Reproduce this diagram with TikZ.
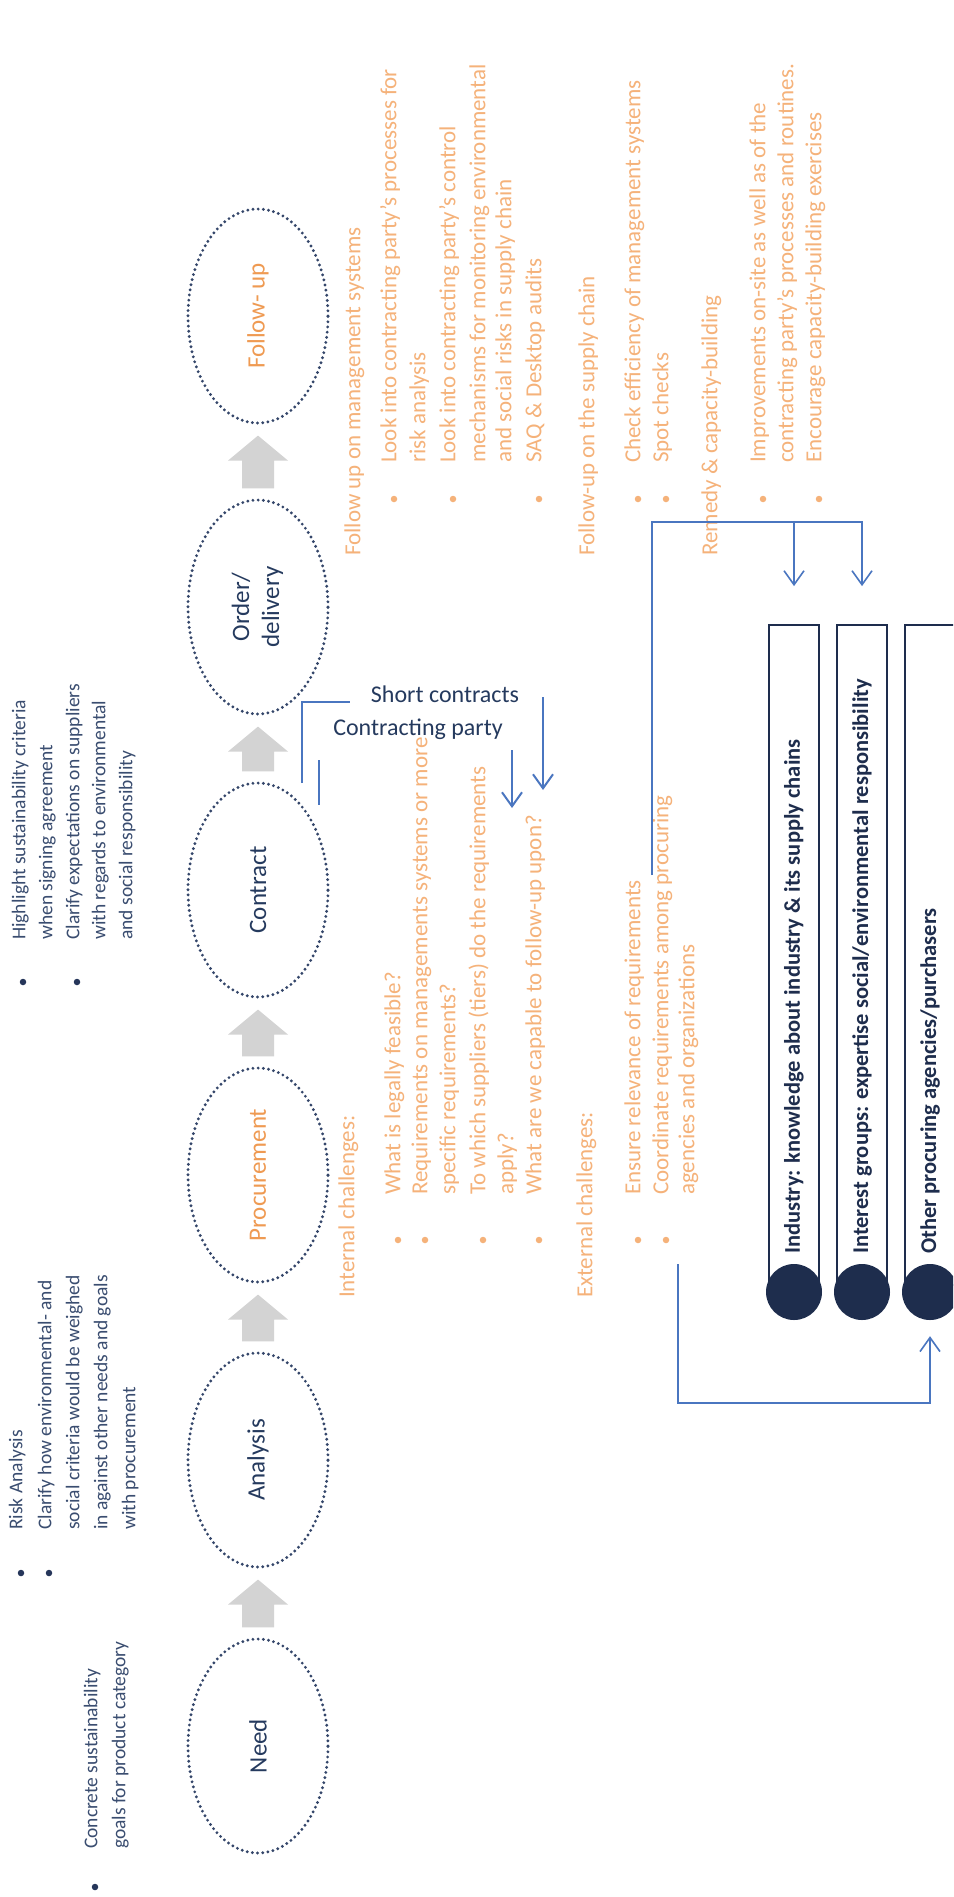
\documentclass[tikz,border=0pt]{standalone}
\usepackage{fontspec}
\setmainfont{Carlito}
\usepackage{graphicx}
\usetikzlibrary{arrows.meta,shapes.geometric,calc}

\definecolor{stageline}{HTML}{34466A}
\definecolor{navytext}{HTML}{253A5E}
\definecolor{bluetext}{HTML}{3A4D70}
\definecolor{bluedot}{HTML}{26365A}
\definecolor{orangetext}{HTML}{F5B27A}
\definecolor{orangelabel}{HTML}{EF9A52}
\definecolor{connblue}{HTML}{4A76C0}
\definecolor{flowgray}{HTML}{D3D3D3}
\definecolor{boxnavy}{HTML}{1E2D4D}

% broad grey arrow pointing from stage #1 up to stage #2
\newcommand\fatarrow[2]{%
  \fill[flowgray] ($(#1.north)+(-16,-10)$) -- ($(#2.south)+(-16,36)$)
    -- ($(#2.south)+(-30,36)$) -- ($(#2.south)+(0,11)$)
    -- ($(#2.south)+(30,36)$) -- ($(#2.south)+(16,36)$)
    -- ($(#1.north)+(16,-10)$) -- cycle;}

\begin{document}
\begin{tikzpicture}[x=1pt, y=-1pt,
  stage/.style={ellipse, draw=stageline, line width=3.2pt,
    dash pattern=on 0pt off 5.2pt, line cap=round,
    minimum width=140pt, minimum height=214pt, inner sep=0pt,
    font=\fontsize{25}{30}\selectfont, text=navytext},
  bline/.style={rotate=90, anchor=mid west, inner sep=0pt, text=bluetext,
    font=\fontsize{19.5}{24}\selectfont},
  oline/.style={rotate=90, anchor=mid west, inner sep=0pt, text=orangetext,
    font=\fontsize{23}{28}\selectfont},
  bdot/.style={circle, fill=bluedot, inner sep=0pt, minimum size=6.5pt},
  odot/.style={circle, fill=orangetext, inner sep=0pt, minimum size=6.5pt},
  conn/.style={draw=connblue, line width=1.6pt},
  arrowend/.style={-{Straight Barb[length=14pt,width=20pt]}},
  sidebox/.style={draw=boxnavy, line width=1.8pt, minimum width=50pt,
    minimum height=660pt, inner sep=0pt},
  boxtext/.style={rotate=90, anchor=west, inner sep=0pt, text=boxnavy,
    font=\fontsize{22.5}{26}\selectfont\bfseries},
  knob/.style={circle, fill=boxnavy, minimum size=56pt, inner sep=0pt},
  shortlbl/.style={inner sep=0pt, text=navytext, font=\fontsize{24}{28}\selectfont}
]
\clip (0,0) rectangle (953,1897);
\fill[white] (0,0) rectangle (953,1897);

% process stages
\node[stage] (need)   at (258,1746) {\rotatebox{90}{Need}};
\node[stage] (anal)   at (258,1460) {\rotatebox{90}{Analysis}};
\node[stage, text=orangelabel] (proc) at (258,1175) {\rotatebox{90}{Procurement}};
\node[stage] (contr)  at (258,890)  {\rotatebox{90}{Contract}};
\node[stage] (order)  at (258,607)  {\rotatebox{90}{\begin{tabular}{@{}c@{}}Order/\\delivery\end{tabular}}};
\node[stage, text=orangelabel] (follow) at (258,316) {\rotatebox{90}{Follow- up}};

\fatarrow{need}{anal}
\fatarrow{anal}{proc}
\fatarrow{proc}{contr}
\fatarrow{contr}{order}
\fatarrow{order}{follow}

% notes beside the stages
\node[bdot] (nb1) at (95,1887) {};
\node[bline] (nt1) at (95,1849) {Concrete sustainability};
\node[bline] (nt2) at (123,1849) {goals for product category};

\node[bdot] (ab1) at (21,1573) {};
\node[bdot] (ab2) at (49,1573) {};
\node[bline] (at1) at (20,1530) {Risk Analysis};
\node[bline] (at2) at (49,1530) {Clarify how environmental- and};
\node[bline] (at3) at (77,1530) {social criteria would be weighed};
\node[bline] (at4) at (105,1530) {in against other needs and goals};
\node[bline] (at5) at (133,1530) {with procurement};

\node[bdot] (cb1) at (23,982) {};
\node[bdot] (cb2) at (77,982) {};
\node[bline] (ct1) at (23,940) {Highlight sustainability criteria};
\node[bline] (ct2) at (50,940) {when signing agreement};
\node[bline] (ct3) at (77,940) {Clarify expectations on suppliers};
\node[bline] (ct4) at (103,940) {with regards to environmental};
\node[bline] (ct5) at (130,940) {and social responsibility};

% follow-up activities
\node[oline] (f1) at (358,556) {Follow up on management systems};
\node[odot] (fd1) at (394,499) {};
\node[oline] (f2) at (394,463) {Look into contracting party’s processes for};
\node[oline] (f3) at (423,463) {risk analysis};
\node[odot] (fd2) at (453,499) {};
\node[oline] (f4) at (453,463) {Look into contracting party’s control};
\node[oline] (f5) at (483,463) {mechanisms for monitoring environmental};
\node[oline] (f6) at (509,463) {and social risks in supply chain};
\node[odot] (fd3) at (539,499) {};
\node[oline] (f7) at (539,463) {SAQ \& Desktop audits};
\node[oline] (f8) at (592,556) {Follow-up on the supply chain};
\node[odot] (fd4) at (638,499) {};
\node[oline] (f9) at (638,463) {Check efficiency of management systems};
\node[odot] (fd5) at (666,499) {};
\node[oline] (f10) at (666,463) {Spot checks};
\node[oline] (f11) at (715,556) {Remedy \& capacity-building};
\node[odot] (fd6) at (763,499) {};
\node[oline] (f12) at (763,463) {Improvements on-site as well as of the};
\node[oline] (f13) at (791,463) {contracting party’s processes and routines.};
\node[odot] (fd7) at (819,499) {};
\node[oline] (f14) at (819,463) {Encourage capacity-building exercises};

% procurement challenges
\node[oline] (p1) at (352,1298) {Internal challenges:};
\node[odot] (pd1) at (398,1240) {};
\node[oline] (p2) at (398,1195) {What is legally feasible?};
\node[odot] (pd2) at (425,1240) {};
\node[oline] (p3) at (425,1195) {Requirements on managements systems or more};
\node[oline] (p4) at (453,1195) {specific requirements?};
\node[odot] (pd3) at (483,1240) {};
\node[oline] (p5) at (483,1195) {To which suppliers (tiers) do the requirements};
\node[oline] (p6) at (511,1195) {apply?};
\node[odot] (pd4) at (539,1240) {};
\node[oline] (p7) at (539,1195) {What are we capable to follow-up upon?};
\node[oline] (p8) at (590,1298) {External challenges:};
\node[odot] (pd5) at (638,1240) {};
\node[oline] (p9) at (638,1195) {Ensure relevance of requirements};
\node[odot] (pd6) at (666,1240) {};
\node[oline] (p10) at (666,1195) {Coordinate requirements among procuring};
\node[oline] (p11) at (692,1195) {agencies and organizations};

% contract remarks
\node[shortlbl] (sc) at (445,694) {Short contracts};
\node[shortlbl] (cp) at (418,729) {Contracting party};
\coordinate (k0) at (302,783);
\coordinate (k1) at (350,702);
\draw[conn] (k0) |- (k1);
\coordinate (k2) at (319,760);
\coordinate (k3) at (319,805);
\draw[conn] (k2) -- (k3);
\coordinate (ca0) at (512,750);
\coordinate (ca1) at (512,808);
\draw[conn, line width=2pt, arrowend] (ca0) -- (ca1);
\coordinate (sa0) at (543,697);
\coordinate (sa1) at (543,790);
\draw[conn, line width=2pt, arrowend] (sa0) -- (sa1);

% stakeholder bars
\node[sidebox] (box1) at (794,955) {};
\node[sidebox] (box2) at (862,955) {};
\node[sidebox] (box3) at (930,955) {};
\node[knob] (c1) at (794,1292) {};
\node[knob] (c2) at (862,1292) {};
\node[knob] (c3) at (930,1292) {};
\node[boxtext] (bt1) at (794,1254) {Industry: knowledge about industry \& its supply chains};
\node[boxtext] (bt2) at (862,1254) {Interest groups: expertise social/environmental responsibility};
\node[boxtext] (bt3) at (930,1254) {Other procuring agencies/purchasers};

% links to the stakeholders
\coordinate (up0) at (652,875);
\coordinate (up1) at (652,522);
\draw[conn, arrowend, shorten >=38pt] (up0) -- (up1) -| (box2.north);
\draw[conn, arrowend, shorten >=38pt] (box1.north |- up1) -- (box1.north);
\coordinate (lo0) at (678,1264);
\coordinate (lo1) at (678,1403);
\draw[conn, arrowend, shorten >=16pt] (lo0) -- (lo1) -| (c3.south);
\end{tikzpicture}
\end{document}
